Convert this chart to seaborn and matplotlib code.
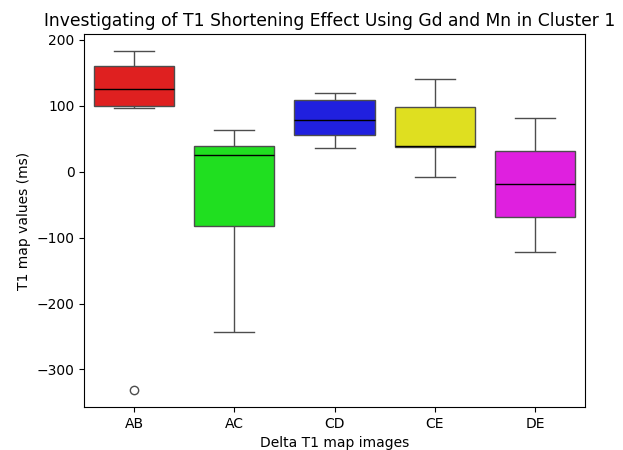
import pandas as pd
import matplotlib
matplotlib.use('Agg')
import matplotlib.pyplot as plt
import seaborn as sns

# values (min, Q1, median, Q3, max + fillers)
groups = ['AB', 'AC', 'CD', 'CE', 'DE']
ab_vals = [-331, 96, 99, 110, 125, 140, 161, 170, 183]
ac_vals = [-243, -150, -83, -20, 26, 30, 39, 50, 63]
cd_vals = [36, 45, 56, 70, 79, 95, 109, 115, 119]
ce_vals = [-8, 20, 37, 38, 39, 70, 98, 120, 140]
de_vals = [-122, -95, -69, -40, -19, 10, 32, 60, 82]
colors = ['red', 'lime', 'blue', 'yellow', 'magenta']


def build_frame() -> pd.DataFrame:
    """ Long format table for the boxplot. """
    all_vals = [ab_vals, ac_vals, cd_vals, ce_vals, de_vals]
    rows = []
    for name, vals in zip(groups, all_vals):
        for v in vals:
            rows.append({'image': name, 'value': v})
    return pd.DataFrame(rows)


def main():
    df = build_frame()
    fig = plt.figure(figsize=(6.23, 4.5), dpi=100)
    ax = fig.add_axes([0.135, 0.096, 0.804, 0.828])
    sns.boxplot(data=df, x='image', y='value', hue='image', order=groups,
                palette=colors, legend=False, ax=ax,
                medianprops={'color': 'black'})
    ax.set_title('Investigating of T1 Shortening Effect Using Gd and Mn in '
                 'Cluster 1', fontsize=12.3, x=0.491)
    ax.set_xlabel('Delta T1 map images')
    ax.set_ylabel('T1 map values (ms)')
    fig.savefig('out.png', dpi=100)


if __name__ == '__main__':
    main()
